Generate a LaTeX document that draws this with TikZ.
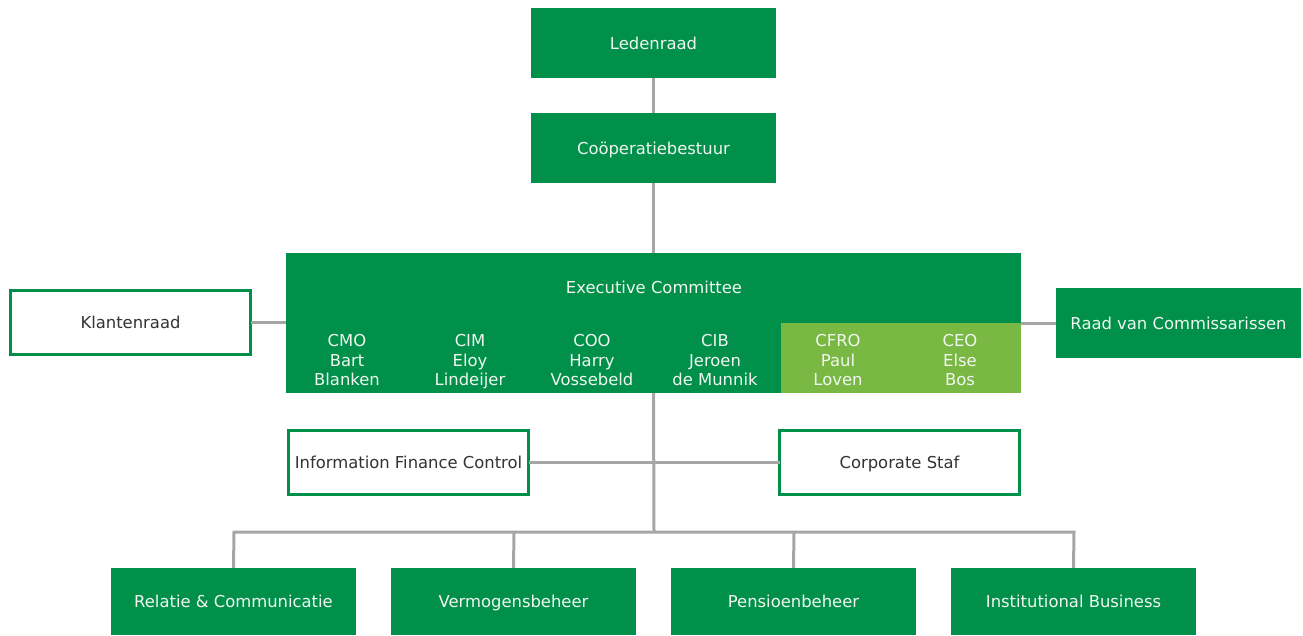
\documentclass[tikz,border=0pt]{standalone}
\usepackage{fontspec}
\setmainfont{DejaVu Sans}
\definecolor{rgreen}{HTML}{00904A}
\definecolor{lgreen}{HTML}{7AB844}
\definecolor{lgrey}{HTML}{A6A6A6}
\definecolor{txtw}{HTML}{F0F7F0}
\definecolor{txtd}{HTML}{333333}
\begin{document}
\begin{tikzpicture}[x=1pt,y=-1pt,
  every node/.style={font=\fontsize{16.4}{19.6}\selectfont,outer sep=0pt},
  fbox/.style={fill=rgreen,text=txtw,inner sep=0pt,anchor=north west,text height=12pt,text depth=0pt},
  obox/.style={draw=rgreen,line width=3pt,fill=white,text=txtd,inner sep=0pt,anchor=north west,text height=12pt,text depth=0pt},
  conn/.style={draw=lgrey,line width=3pt},
  member/.style={text=txtw,align=center,inner sep=0pt,anchor=north}]
\useasboundingbox (0,0) rectangle (1303,635);
\coordinate (jbar) at (654,532);
\coordinate (b1) at (234,532);
\coordinate (b4) at (1074,532);
\coordinate (b2) at (514,532);
\coordinate (b3) at (794,532);
% boxes
\node[fbox,minimum width=245pt,minimum height=70pt] (led) at (531,8) {Ledenraad};
\node[fbox,minimum width=245pt,minimum height=70pt] (coop) at (531,113) {Coöperatiebestuur};
\node[fbox,minimum width=735pt,minimum height=140pt] (exec) at (286,253) {};
\node[fill=lgreen,inner sep=0pt,anchor=north west,minimum width=240pt,minimum height=70pt] (lg) at (781,323) {};
\node[fill=none,text=txtw,inner sep=0pt,text height=12pt,text depth=0pt] (exect) at (654,287) {Executive Committee};
\node[member] (m1) at (347,334.5) {CMO\\Bart\\Blanken};
\node[member] (m2) at (470,334.5) {CIM\\Eloy\\Lindeijer};
\node[member] (m3) at (592,334.5) {COO\\Harry\\Vossebeld};
\node[member] (m4) at (715,334.5) {CIB\\Jeroen\\de Munnik};
\node[member] (m5) at (838,334.5) {CFRO\\Paul\\Loven};
\node[member] (m6) at (960,334.5) {CEO\\Else\\Bos};
\node[obox,minimum width=240pt,minimum height=64pt] (klant) at (10.5,290.5) {Klantenraad};
\node[fbox,minimum width=245pt,minimum height=70pt] (raad) at (1056,288) {Raad van Commissarissen};
\node[obox,minimum width=240pt,minimum height=64pt] (ifc) at (288.5,430.5) {Information Finance Control};
\node[obox,minimum width=240pt,minimum height=64pt] (cs) at (779.5,430.5) {Corporate Staf};
\node[fbox,minimum width=245pt,minimum height=67pt] (rc) at (111,568) {Relatie \& Communicatie};
\node[fbox,minimum width=245pt,minimum height=67pt] (vb) at (391,568) {Vermogensbeheer};
\node[fbox,minimum width=245pt,minimum height=67pt] (pb) at (671,568) {Pensioenbeheer};
\node[fbox,minimum width=245pt,minimum height=67pt] (ib) at (951,568) {Institutional Business};
% connectors
\draw[conn] (led.south) -- (coop.north);
\draw[conn] (coop.south) -- (exec.north);
\draw[conn] (klant.east) -- (exec.west |- klant.east);
\draw[conn] (raad.west) -- (exec.east |- raad.west);
\draw[conn] (exec.south) -- (jbar);
\draw[conn] (ifc.east) -- (cs.west);
\draw[conn] (rc.north) -- (b1) -- (b4) -- (ib.north);
\draw[conn] (vb.north) -- (b2);
\draw[conn] (pb.north) -- (b3);
\end{tikzpicture}
\end{document}
